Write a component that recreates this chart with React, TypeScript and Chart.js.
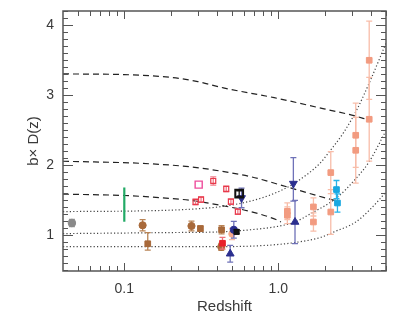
import React, { useEffect, useRef } from "react";
import { Chart, registerables } from "chart.js";
Chart.register(...registerables);

// ---- tick labels ----
const xTickValues = [0.1, 1];
const xTickLabels = ["0.1", "1.0"];
const yTickValues = [1, 2, 3, 4];
const yTickLabels = ["1", "2", "3", "4"];
const xMinorTicks = [0.05, 0.06, 0.07, 0.08, 0.09, 0.2, 0.3, 0.4, 0.5, 0.6, 0.7, 0.8, 0.9, 2, 3, 4, 5];

// ---- model curves (dashed) ----
const d1Z = [0.04, 0.1, 0.2, 0.3, 0.44, 0.94, 1.98, 3.0, 3.87];
const d1V = [3.3, 3.29, 3.25, 3.19, 3.1, 2.96, 2.8, 2.71, 2.64];
const d2Z = [0.04, 0.13, 0.27, 0.42, 0.66, 1.0, 1.84, 2.42];
const d2V = [2.05, 2.02, 1.97, 1.91, 1.83, 1.72, 1.55, 1.48];
const d3Z = [0.04, 0.1, 0.17, 0.27, 0.42, 0.66, 0.98, 1.04];
const d3V = [1.58, 1.56, 1.53, 1.49, 1.42, 1.33, 1.21, 1.18];

// ---- model curves (dotted) ----
const p1Z = [0.04, 0.13, 0.25, 0.42, 0.66, 0.94, 1.26, 1.88, 2.08, 2.67, 3.27, 3.98, 5.0];
const p1V = [1.33, 1.34, 1.36, 1.4, 1.48, 1.59, 1.73, 2.03, 2.15, 2.47, 2.81, 3.22, 3.74];
const p2Z = [0.04, 0.2, 0.42, 0.66, 1.0, 1.28, 1.62, 2.4, 3.18, 3.88, 4.9];
const p2V = [1.015, 1.03, 1.04, 1.07, 1.12, 1.18, 1.3, 1.53, 1.8, 2.04, 2.45];
const p3Z = [0.04, 0.5, 1.0, 1.4, 1.88, 2.3, 3.18, 3.98, 5.0];
const p3V = [0.83, 0.83, 0.86, 0.9, 0.96, 1.04, 1.18, 1.37, 1.61];

// ---- measurements ----
const greyZ = [0.0457];
const greyV = [1.167];
const greyE = [0.05];
const greenZ = [0.1];
const greenV = [1.43];
const greenE = [0.245];
const brownCircZ = [0.1315, 0.273, 0.426];
const brownCircV = [1.134, 1.124, 0.826];
const brownCircE = [0.08, 0.07, 0.05];
const brownSqZ = [0.142, 0.312, 0.428];
const brownSqV = [0.87, 1.087, 1.07];
const brownSqLo = [0.09, 0.04, 0.06];
const brownSqHi = [0.16, 0.04, 0.06];
const redOpenZ = [0.29, 0.315, 0.378, 0.459, 0.492, 0.546];
const redOpenV = [1.468, 1.502, 1.768, 1.654, 1.473, 1.33];
const redOpenE = [0.04, 0.04, 0.06, 0.04, 0.04, 0.04];
const magentaZ = [0.304];
const magentaV = [1.716];
const blackOpenZ = [0.557];
const blackOpenV = [1.588];
const blackOpenE = [0.04];
const redFillZ = [0.434];
const redFillV = [0.877];
const redFillE = [0.085];
const blackFillZ = [0.536];
const blackFillV = [1.04];
const blackFillE = [0.03];
const peachZ = [0.5];
const peachV = [1.01];
const peachE = [0.08];
const navyCircZ = [0.514];
const navyCircV = [1.07];
const navyCircE = [0.12];
const navyUpZ = [0.487, 1.283];
const navyUpV = [0.727, 1.181];
const navyUpE = [0.12, 0.31];
const navyDownZ = [0.577, 1.252];
const navyDownV = [1.525, 1.731];
const navyDownLo = [0.14, 0.25];
const navyDownHi = [0.14, 0.37];
const salmonZ = [1.144, 1.144, 1.69, 1.69, 2.19, 2.19, 3.18, 3.18, 3.89, 3.89];
const salmonV = [1.334, 1.277, 1.397, 1.181, 1.888, 1.324, 2.422, 2.207, 3.495, 2.651];
const salmonE = [0.12, 0.12, 0.13, 0.13, 0.3, 0.32, 0.46, 0.47, 0.56, 0.6];
const cyanZ = [2.385, 2.42];
const cyanV = [1.645, 1.453];
const cyanE = [0.13, 0.13];

const FONT = "'Liberation Sans', Arial, Helvetica, sans-serif";
const TEXT = "#3a3a3a";
const AXIS = "#555555";

const pts = (z: number[], v: number[]) => z.map((x, i) => ({ x, y: v[i] }));

function curve(z: number[], v: number[], dash: number[], color: string) {
  return {
    data: pts(z, v),
    showLine: true,
    borderColor: color,
    borderWidth: 1.2,
    borderDash: dash,
    pointRadius: 0,
    cubicInterpolationMode: "monotone",
    fill: false,
  } as any;
}

function marks(
  z: number[],
  v: number[],
  style: string,
  radius: number,
  fill: string,
  border: string,
  bw: number,
  lo: number[] | null,
  hi: number[] | null,
  errColor: string,
  extra: any = {}
) {
  return {
    data: pts(z, v),
    showLine: false,
    pointStyle: style,
    pointRadius: radius,
    pointBackgroundColor: fill,
    pointBorderColor: border,
    pointBorderWidth: bw,
    errLo: lo,
    errHi: hi,
    errColor,
    ...extra,
  } as any;
}

const errorBarPlugin = {
  id: "errorBars",
  beforeDatasetDraw(chart: any, args: any) {
    const ds = chart.data.datasets[args.index];
    if (!ds.errLo) return;
    const { ctx, chartArea: a } = chart;
    const xs = chart.scales.x;
    const ys = chart.scales.y;
    ctx.save();
    ctx.beginPath();
    ctx.rect(a.left, a.top, a.width, a.height);
    ctx.clip();
    ctx.strokeStyle = ds.errColor;
    ctx.lineWidth = ds.errWidth ?? 1.3;
    const cap = ds.errCap ?? 3;
    ds.data.forEach((p: any, i: number) => {
      const px = xs.getPixelForValue(p.x);
      const top = ys.getPixelForValue(p.y + ds.errHi[i]);
      const bot = ys.getPixelForValue(p.y - ds.errLo[i]);
      ctx.beginPath();
      ctx.moveTo(px, top);
      ctx.lineTo(px, bot);
      if (cap > 0) {
        ctx.moveTo(px - cap, top);
        ctx.lineTo(px + cap, top);
        ctx.moveTo(px - cap, bot);
        ctx.lineTo(px + cap, bot);
      }
      ctx.stroke();
    });
    ctx.restore();
  },
};

const framePlugin = {
  id: "frameTicks",
  afterDraw(chart: any) {
    const { ctx, chartArea: a } = chart;
    const xs = chart.scales.x;
    const ys = chart.scales.y;
    ctx.save();
    ctx.strokeStyle = AXIS;
    ctx.lineWidth = 1;
    ctx.beginPath();
    for (let k = 5; k <= 42; k++) {
      const v = k / 10;
      const py = Math.round(ys.getPixelForValue(v)) + 0.5;
      const len = k % 10 === 0 ? 10 : 5;
      ctx.moveTo(a.left, py);
      ctx.lineTo(a.left + len, py);
      ctx.moveTo(a.right, py);
      ctx.lineTo(a.right - len, py);
    }
    for (const v of xMinorTicks) {
      const px = Math.round(xs.getPixelForValue(v)) + 0.5;
      ctx.moveTo(px, a.bottom);
      ctx.lineTo(px, a.bottom - 5);
      ctx.moveTo(px, a.top);
      ctx.lineTo(px, a.top + 5);
    }
    for (const v of xTickValues) {
      const px = Math.round(xs.getPixelForValue(v)) + 0.5;
      ctx.moveTo(px, a.bottom);
      ctx.lineTo(px, a.bottom - 8);
      ctx.moveTo(px, a.top);
      ctx.lineTo(px, a.top + 8);
    }
    ctx.stroke();
    ctx.lineWidth = 1.5;
    ctx.strokeRect(a.left, a.top, a.right - a.left, a.bottom - a.top);
    ctx.restore();
  },
};

export default function App() {
  const ref = useRef<HTMLCanvasElement>(null);
  useEffect(() => {
    document.body.style.margin = "0";
    const datasets: any[] = [
      marks(blackOpenZ, blackOpenV, "rect", 5.5, "rgba(255,255,255,0)", "#111111", 2, blackOpenE, blackOpenE, "#111111"),
      marks(navyDownZ, navyDownV, "triangle", 4.5, "#2b2f8f", "#2b2f8f", 1, navyDownLo, navyDownHi, "#6f72b8", { rotation: 180 }),
      marks(navyUpZ, navyUpV, "triangle", 4.5, "#2b2f8f", "#2b2f8f", 1, navyUpE, navyUpE, "#6f72b8"),
      marks(blackFillZ, blackFillV, "rect", 3.6, "#111111", "#111111", 1, blackFillE, blackFillE, "#111111"),
      marks(navyCircZ, navyCircV, "circle", 3.6, "#2b2f8f", "#2b2f8f", 1, navyCircE, navyCircE, "#6f72b8"),
      marks(peachZ, peachV, "circle", 3.2, "#f6a98c", "#f6a98c", 1, peachE, peachE, "#f6b9a2"),
      marks(redFillZ, redFillV, "rect", 4, "#e8212a", "#e8212a", 1, redFillE, redFillE, "#f0707a"),
      marks(magentaZ, magentaV, "rect", 5, "rgba(255,255,255,0)", "#ee4c9c", 1.4, null, null, ""),
      marks(redOpenZ, redOpenV, "rect", 3.5, "rgba(255,255,255,0)", "#e8384a", 1.2, redOpenE, redOpenE, "#f07f8c"),
      marks(cyanZ, cyanV, "rect", 4, "#19a7e0", "#19a7e0", 1, cyanE, cyanE, "#29b2e8"),
      marks(salmonZ, salmonV, "rect", 4, "#f29b80", "#f29b80", 1, salmonE, salmonE, "#f8bda9"),
      marks(brownCircZ, brownCircV, "circle", 3.6, "#a8693a", "#a8693a", 1, brownCircE, brownCircE, "#b98455"),
      marks(brownSqZ, brownSqV, "rect", 4, "#a8693a", "#a8693a", 1, brownSqLo, brownSqHi, "#b98455"),
      marks(greyZ, greyV, "circle", 3.8, "#8a8a8a", "#8a8a8a", 1, greyE, greyE, "#9a9a9a"),
      marks(greenZ, greenV, "circle", 0, "#22aa66", "#22aa66", 0, greenE, greenE, "#22aa66", { errWidth: 2.2, errCap: 0 }),
      curve(d1Z, d1V, [6, 4], "#222222"),
      curve(d2Z, d2V, [6, 4], "#222222"),
      curve(d3Z, d3V, [6, 4], "#222222"),
      curve(p1Z, p1V, [1.2, 2.2], "#444444"),
      curve(p2Z, p2V, [1.2, 2.2], "#444444"),
      curve(p3Z, p3V, [1.2, 2.2], "#444444"),
    ];
    const chart = new Chart(ref.current as HTMLCanvasElement, {
      type: "scatter",
      data: { datasets },
      plugins: [errorBarPlugin, framePlugin],
      options: {
        responsive: false,
        animation: false,
        devicePixelRatio: 1,
        layout: { padding: { top: 11, right: 13, left: 0, bottom: 0 } },
        plugins: { legend: { display: false }, tooltip: { enabled: false } },
        scales: {
          x: {
            type: "logarithmic",
            min: 0.04,
            max: 5,
            grid: { display: false, drawTicks: false },
            border: { display: false },
            afterBuildTicks: (s: any) => {
              s.ticks = xTickValues.map((value) => ({ value }));
            },
            afterFit: (s: any) => {
              s.height = 48;
              s.paddingLeft = 0;
              s.paddingRight = 0;
            },
            ticks: {
              autoSkip: false,
              maxRotation: 0,
              padding: 10,
              color: TEXT,
              font: { family: FONT, size: 14 },
              callback: (_v: any, i: number) => xTickLabels[i],
            },
            title: {
              display: true,
              text: "Redshift",
              color: TEXT,
              font: { family: FONT, size: 15 },
              padding: { top: 0, bottom: 3 },
            },
          },
          y: {
            type: "linear",
            min: 0.48,
            max: 4.2,
            grid: { display: false, drawTicks: false },
            border: { display: false },
            afterBuildTicks: (s: any) => {
              s.ticks = yTickValues.map((value) => ({ value }));
            },
            afterFit: (s: any) => {
              s.width = 63;
              s.paddingTop = 0;
              s.paddingBottom = 0;
            },
            ticks: {
              padding: 9,
              color: TEXT,
              font: { family: FONT, size: 14 },
              callback: (_v: any, i: number) => yTickLabels[i],
            },
            title: {
              display: true,
              text: "b× D(z)",
              color: TEXT,
              font: { family: FONT, size: 15 },
              padding: { top: 25, bottom: 0 },
            },
          },
        },
      } as any,
    });
    return () => chart.destroy();
  }, []);
  return (
    <div style={{ width: 399, height: 319 }}>
      <canvas ref={ref} width={399} height={319} style={{ display: "block" }} />
    </div>
  );
}
